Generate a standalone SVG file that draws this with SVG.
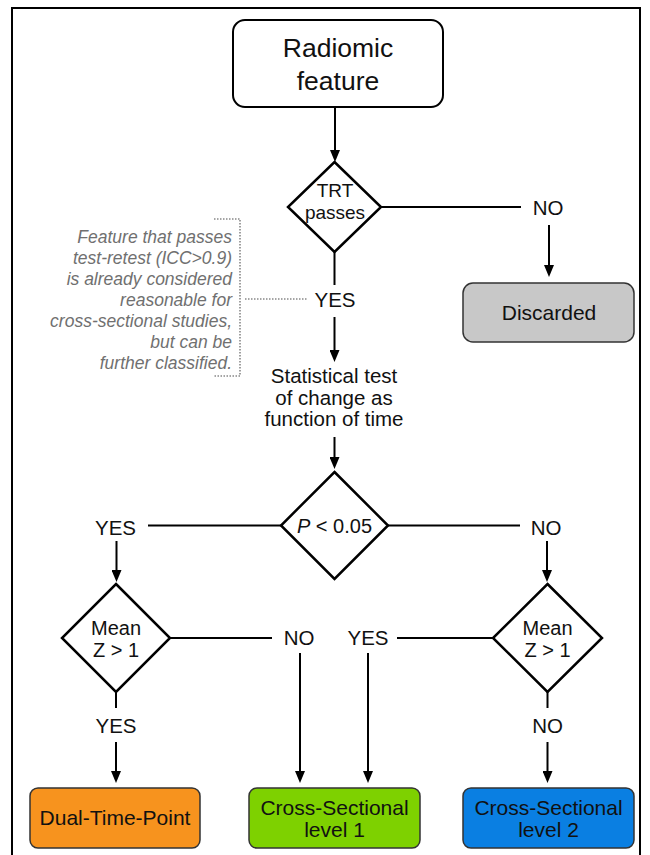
<svg xmlns="http://www.w3.org/2000/svg" width="650" height="855" viewBox="0 0 650 855">
<defs>
<marker id="ah" viewBox="0 0 12 10" refX="6" refY="5" markerWidth="12" markerHeight="10" markerUnits="userSpaceOnUse" orient="auto">
<path d="M0,0 L12,5 L0,10 z" fill="#000"/>
</marker>
</defs>
<style>
text{font-family:"Liberation Sans",Arial,sans-serif;fill:#111;text-anchor:middle}
.lbl{font-size:20.5px}
.dec{font-size:20px}
.trt{font-size:19px}
.box{font-size:21px}
.ann{font-size:17.5px;font-style:italic;fill:#707070;text-anchor:end}
.ln{stroke:#000;stroke-width:2;fill:none}
.arr{stroke:#000;stroke-width:2;fill:none;marker-end:url(#ah)}
.dia{stroke:#000;stroke-width:2.5;fill:#fff;stroke-linejoin:miter}
.res{stroke:#333;stroke-width:1.5}
.dot{stroke:#888;stroke-width:1.6;stroke-dasharray:1.5 1.5;fill:none}
</style>
<rect x="12" y="8" width="628" height="900" fill="#fff" stroke="#000" stroke-width="2"/>

<g id="connectors">
<line class="arr" x1="335" y1="107" x2="335" y2="156"/>
<line class="ln" x1="381" y1="207" x2="521" y2="207"/>
<line class="arr" x1="549" y1="225" x2="549" y2="271"/>
<line class="ln" x1="334.5" y1="252" x2="334.5" y2="285"/>
<line class="arr" x1="334.5" y1="317" x2="334.5" y2="356"/>
<line class="dot" x1="245" y1="299" x2="308" y2="299"/>
<polyline class="dot" points="214,219 240,219 240,376 214,376"/>
<line class="arr" x1="334.5" y1="437" x2="334.5" y2="463"/>
<line class="ln" x1="148" y1="525.5" x2="281" y2="525.5"/>
<line class="ln" x1="388" y1="525.5" x2="520" y2="525.5"/>
<line class="arr" x1="116.5" y1="541" x2="116.5" y2="576"/>
<line class="arr" x1="547" y1="541" x2="547" y2="576"/>
<line class="ln" x1="170" y1="638" x2="272" y2="638"/>
<line class="ln" x1="397" y1="638" x2="493" y2="638"/>
<line class="arr" x1="300" y1="653" x2="300" y2="777"/>
<line class="arr" x1="368" y1="653" x2="368" y2="777"/>
<line class="ln" x1="116" y1="692" x2="116" y2="708"/>
<line class="arr" x1="116" y1="742" x2="116" y2="777"/>
<line class="ln" x1="547.5" y1="692" x2="547.5" y2="708"/>
<line class="arr" x1="547.5" y1="742" x2="547.5" y2="777"/>
</g>

<g id="radiomic">
<rect x="233" y="20" width="210" height="87" rx="12" fill="#fff" stroke="#000" stroke-width="2"/>
<text x="338" y="57" style="font-size:26.5px">Radiomic</text>
<text x="338" y="90" style="font-size:26.5px">feature</text>
</g>

<g id="trt">
<polygon class="dia" points="334.5,162 381,207 334.5,252 288,207"/>
<text class="trt" x="335" y="197">TRT</text>
<text class="trt" x="335" y="219">passes</text>
</g>

<g id="trt-no"><text class="lbl" x="548" y="215">NO</text></g>
<g id="trt-yes"><text class="lbl" x="335" y="307">YES</text></g>

<g id="discarded">
<rect class="res" x="463" y="283" width="171" height="59" rx="10" fill="#c8c8c8"/>
<text class="box" x="549" y="320">Discarded</text>
</g>

<g id="note">
<text class="ann" x="232" y="243">Feature that passes</text>
<text class="ann" x="232" y="264">test-retest (ICC&gt;0.9)</text>
<text class="ann" x="232" y="285">is already considered</text>
<text class="ann" x="232" y="306">reasonable for</text>
<text class="ann" x="232" y="327">cross-sectional studies,</text>
<text class="ann" x="232" y="348">but can be</text>
<text class="ann" x="232" y="369">further classified.</text>
</g>

<g id="stat">
<text class="lbl" x="334" y="383">Statistical test</text>
<text class="lbl" x="334" y="405">of change as</text>
<text class="lbl" x="334" y="426">function of time</text>
</g>

<g id="pval">
<polygon class="dia" points="334.5,472 388,525.5 334.5,579 281,525.5"/>
<text x="334.5" y="533" style="font-size:20px"><tspan font-style="italic">P</tspan> &lt; 0.05</text>
</g>

<g id="p-yes"><text class="lbl" x="115.5" y="535">YES</text></g>
<g id="p-no"><text class="lbl" x="546" y="535">NO</text></g>

<g id="mean-left">
<polygon class="dia" points="116,584 170,638 116,692 62,638"/>
<text class="dec" x="116" y="635">Mean</text>
<text class="dec" x="116" y="657">Z &gt; 1</text>
</g>

<g id="mean-right">
<polygon class="dia" points="547.5,584 602,638 547.5,692 493,638"/>
<text class="dec" x="547.5" y="635">Mean</text>
<text class="dec" x="547.5" y="657">Z &gt; 1</text>
</g>

<g id="ml-no"><text class="lbl" x="299" y="645">NO</text></g>
<g id="mr-yes"><text class="lbl" x="368" y="645">YES</text></g>
<g id="ml-yes"><text class="lbl" x="116" y="733">YES</text></g>
<g id="mr-no"><text class="lbl" x="547.5" y="733">NO</text></g>

<g id="dual">
<rect class="res" x="30" y="788" width="170" height="60" rx="8" fill="#f7931e"/>
<text class="box" x="115" y="825">Dual-Time-Point</text>
</g>

<g id="cs1">
<rect class="res" x="249" y="788" width="171" height="60" rx="8" fill="#7ed100"/>
<text class="box" x="334.5" y="815">Cross-Sectional</text>
<text class="box" x="334.5" y="837">level 1</text>
</g>

<g id="cs2">
<rect class="res" x="463" y="788" width="171" height="60" rx="8" fill="#0a7fe2"/>
<text class="box" x="548.5" y="815">Cross-Sectional</text>
<text class="box" x="548.5" y="837">level 2</text>
</g>
</svg>
